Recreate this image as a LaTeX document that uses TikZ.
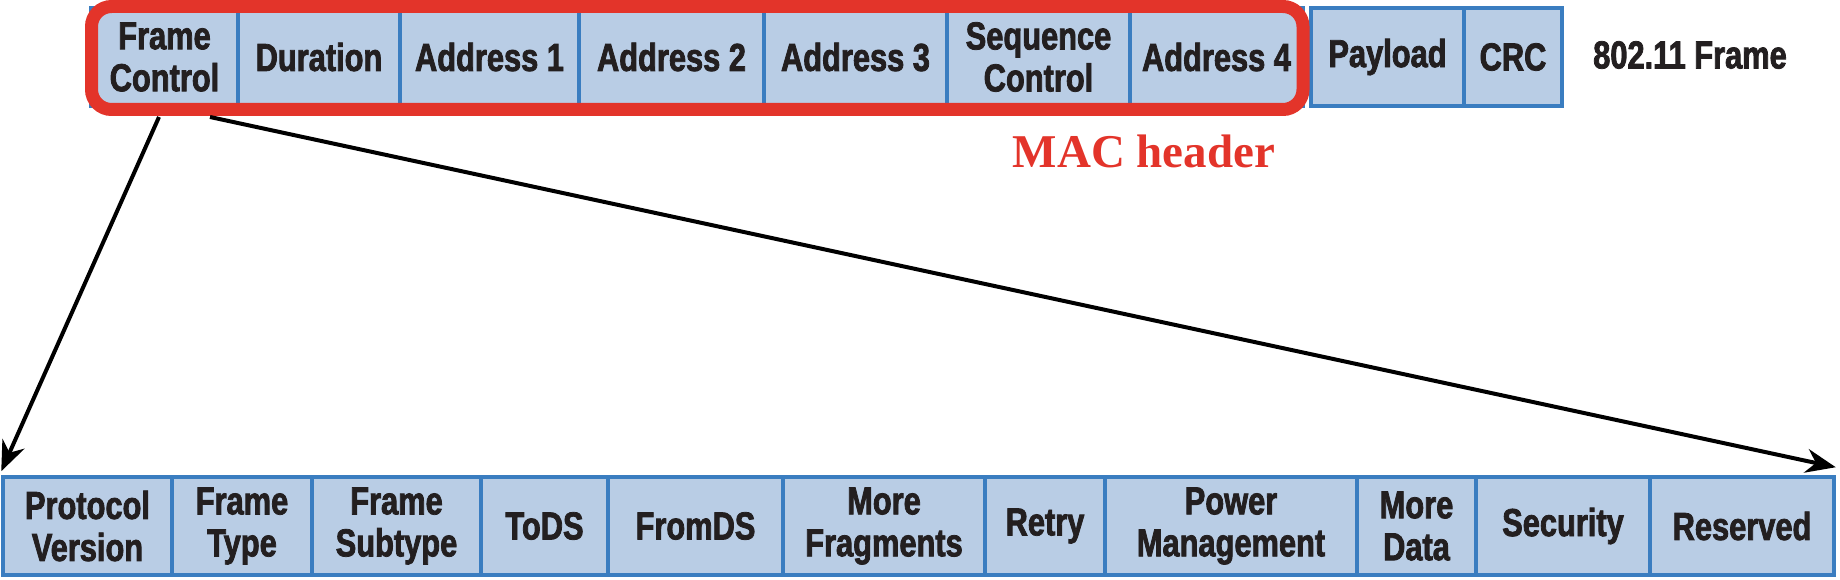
\documentclass[tikz,border=0pt]{standalone}
\usepackage{fontspec}
\newfontfamily\cond{Liberation Sans}[FakeStretch=0.79, BoldFeatures={FakeBold=2}]
\newfontfamily\macserif{Liberation Serif}
\usetikzlibrary{arrows.meta}
\definecolor{boxfill}{HTML}{B9CDE5}
\definecolor{boxline}{HTML}{3A7DC0}
\definecolor{macred}{HTML}{E3342A}
\definecolor{txt}{HTML}{231F20}
\begin{document}
\begin{tikzpicture}[x=1pt,y=-1pt,
  field/.style={draw=boxline, fill=boxfill, line width=3.5pt, minimum height=98pt,
    inner sep=0pt, align=center, text=txt,
    font=\cond\bfseries\fontsize{39}{42}\selectfont},
  plain/.style={inner sep=0pt, text=txt, font=\cond\bfseries\fontsize{39}{42}\selectfont},
  macbox/.style={draw=macred, line width=13pt, rounded corners=20pt},
  maclabel/.style={inner sep=0pt, text=macred, font=\macserif\bfseries\fontsize{47}{50}\selectfont},
  arr/.style={draw=black, line width=4pt, -{Stealth[length=30pt,width=24pt]}}
]
\useasboundingbox (0,0) rectangle (1840,580);
% top row
\node[field, minimum width=147pt] (fc)  at (164.5,57) {Frame\\Control};
\node[field, minimum width=162pt] (dur) at (319,57) {Duration};
\node[field, minimum width=179pt] (a1)  at (489.5,57) {Address 1};
\node[field, minimum width=185pt] (a2)  at (671.5,57) {Address 2};
\node[field, minimum width=183pt] (a3)  at (855.5,57) {Address 3};
\node[field, minimum width=183pt] (sc)  at (1038.5,57) {Sequence\\Control};
\node[field, minimum width=173pt] (a4)  at (1216.5,57) {Address 4};
\node[field, minimum width=153pt] (pay) at (1387.5,57) {Payload};
\node[field, minimum width=98pt]  (crc) at (1513,57) {CRC};
\node[plain] (frm) at (1690,55) {802.11 Frame};
% MAC header outline
\draw[macbox] (91.5,6.5) rectangle (1303,109.5);
\node[maclabel, anchor=base] (mac) at (1144,168) {MAC header};
% bottom row
\node[field, minimum width=169pt] (pv)  at (87.5,526) {Protocol\\Version};
\node[field, minimum width=140pt] (ft)  at (242,526) {Frame\\Type};
\node[field, minimum width=169pt] (fs)  at (396.5,526) {Frame\\Subtype};
\node[field, minimum width=127pt] (tods) at (544.5,526) {ToDS};
\node[field, minimum width=175pt] (fromds) at (695.5,526) {FromDS};
\node[field, minimum width=202pt] (mf)  at (884,526) {More\\Fragments};
\node[field, minimum width=120pt] (retry) at (1045,526) {Retry};
\node[field, minimum width=252pt] (pm)  at (1231,526) {Power\\Management};
\node[field, minimum width=119pt] (md)  at (1416.5,526) {More\\Data};
\node[field, minimum width=174pt] (sec) at (1563,526) {Security};
\node[field, minimum width=184pt] (res) at (1742,526) {Reserved};
% connectors
\coordinate (s1) at (159,117);
\coordinate (s2) at (210,117);
\draw[arr] (s1) -- ([yshift=4pt]pv.north west);
\draw[arr] (s2) -- ([yshift=8pt]res.north east);
\end{tikzpicture}
\end{document}
